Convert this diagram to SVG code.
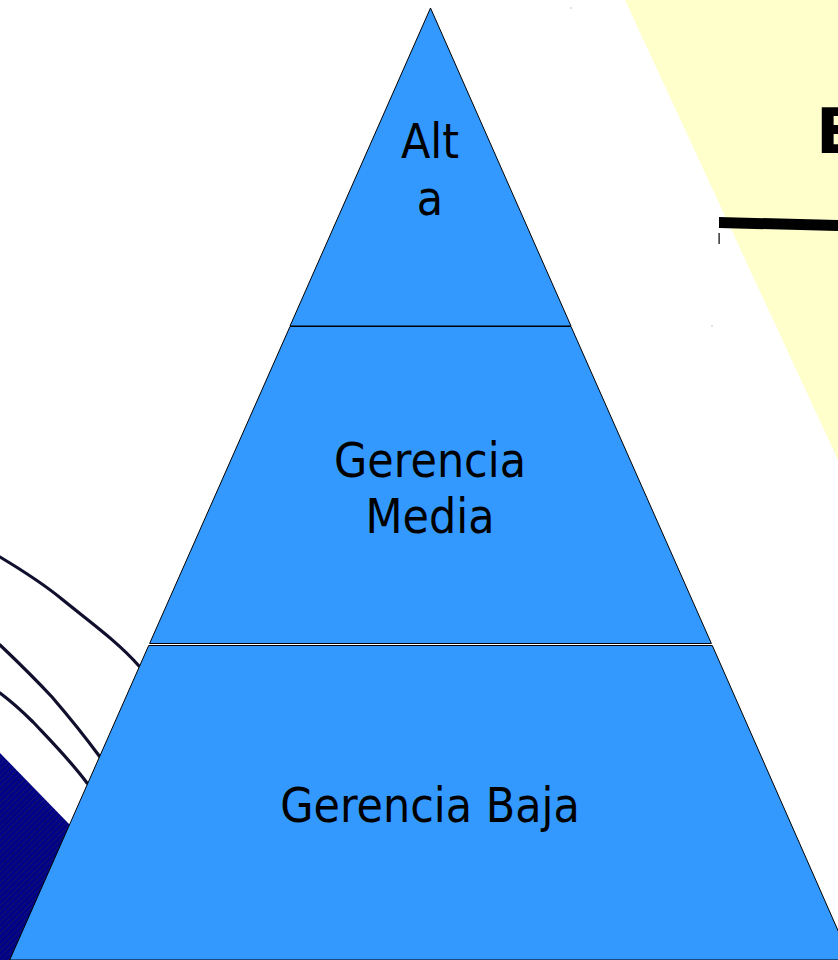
<svg xmlns="http://www.w3.org/2000/svg" width="838" height="960" viewBox="0 0 838 960">
  <style>
    .tier { fill: #3399ff; stroke: #000; stroke-width: 1; }
    .lbl { font-family: "DejaVu Sans", sans-serif; font-size: 48px; fill: #000; text-anchor: middle; }
    .curve { fill: none; stroke: #10102e; stroke-width: 3.2; stroke-linecap: round; }
  </style>
  <defs>
    <pattern id="hatch" width="4" height="4" patternUnits="userSpaceOnUse" patternTransform="rotate(45)">
      <rect width="4" height="4" fill="#00008a"/>
      <line x1="0" y1="0" x2="0" y2="4" stroke="#1a1a5a" stroke-width="1.5"/>
    </pattern>
  </defs>
  <rect width="838" height="960" fill="#ffffff"/>

  <g id="background">
    <polygon points="625,0 838,0 838,460" fill="#ffffcc"/>
    <polygon points="719,217 838,220 838,231 719,228" fill="#000"/>
    <rect x="718.5" y="233" width="1.2" height="11" fill="#000"/>
    <rect x="570.5" y="7.5" width="1" height="1" fill="#888"/>
    <rect x="711.5" y="325.5" width="1" height="1" fill="#888"/>
    <text x="816" y="153" font-family="DejaVu Sans, sans-serif" font-weight="bold" font-size="63" fill="#000">E</text>
    <polygon points="0,753 70,825 80,960 0,960" fill="url(#hatch)"/>
  </g>

  <g id="connectors">
    <path class="curve" d="M0,557 C25,572 45,585 63,600 C90,622 118,642 139,666"/>
    <path class="curve" d="M0,645 C20,664 38,682 52,697 C70,718 86,738 100,757"/>
    <path class="curve" d="M0,693 C12,702 22,711 33,722 C50,740 70,760 87,783"/>
  </g>

  <g id="alta">
    <polygon class="tier" points="430.5,8 571,326 290,326"/>
    <text class="lbl" transform="translate(430,158) scale(0.895,1)">Alt</text>
    <text class="lbl" transform="translate(430,215) scale(0.895,1)">a</text>
  </g>

  <g id="gerencia-media">
    <polygon class="tier" points="290,326.5 571,326.5 711.4,643.5 149.6,643.5"/>
    <text class="lbl" transform="translate(430,477) scale(0.895,1)">Gerencia</text>
    <text class="lbl" transform="translate(430,533) scale(0.895,1)">Media</text>
  </g>

  <g id="gerencia-baja">
    <polygon class="tier" points="148.7,645.5 712.3,645.5 851,960 9.7,960"/>
    <text class="lbl" transform="translate(430,822) scale(0.895,1)">Gerencia Baja</text>
  </g>
</svg>
